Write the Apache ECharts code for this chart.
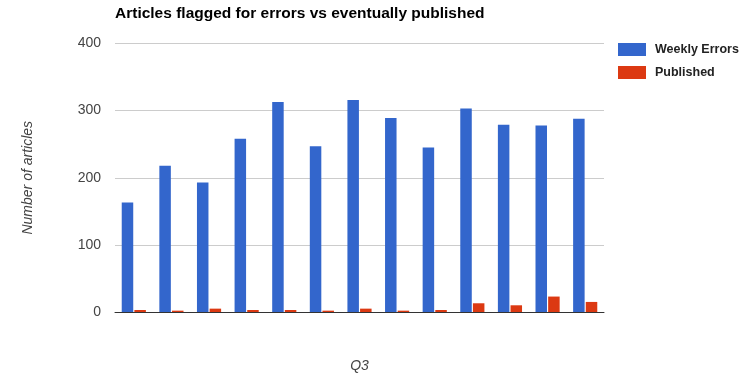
<!DOCTYPE html>
<html>
<head>
<meta charset="utf-8">
<script src="https://cdn.jsdelivr.net/npm/echarts@6/dist/echarts.min.js"></script>
<style>
  html, body { margin: 0; padding: 0; background: #fff; }
  #chart { width: 741px; height: 378px; }
</style>
</head>
<body>
<div id="chart"></div>
<script>
// Weekly counts for Q3: articles flagged for errors and those eventually published
const weeks = ['Week 1', 'Week 2', 'Week 3', 'Week 4', 'Week 5', 'Week 6', 'Week 7',
               'Week 8', 'Week 9', 'Week 10', 'Week 11', 'Week 12', 'Week 13'];
const weeklyErrors = [163, 218, 193, 258, 313, 247, 316, 289, 245, 303, 279, 278, 288];
const published = [3, 2, 5, 3, 3, 2, 5, 2, 3, 13, 10, 23, 15];
const yTicks = { min: 0, max: 400, interval: 100 };

const chart = echarts.init(document.getElementById('chart'), null, { renderer: 'canvas' });
const font = '"Liberation Sans", Arial, sans-serif';

chart.setOption({
  animation: false,
  backgroundColor: '#fff',
  textStyle: { fontFamily: font },
  title: {
    text: 'Articles flagged for errors vs eventually published',
    left: 115,
    top: 6,
    padding: 0,
    textStyle: { fontFamily: font, fontSize: 15.5, fontWeight: 'bold', color: '#000' }
  },
  legend: {
    orient: 'vertical',
    left: 618,
    top: 43,
    padding: 0,
    itemWidth: 28,
    itemHeight: 13,
    itemGap: 10,
    icon: 'rect',
    textStyle: { fontFamily: font, fontSize: 12.5, fontWeight: 'bold', color: '#222', padding: [2, 0, 0, 4] },
    data: ['Weekly Errors', 'Published']
  },
  grid: { left: 115, right: 137, top: 43.5, bottom: 62, containLabel: false },
  xAxis: {
    type: 'category',
    data: weeks,
    name: 'Q3',
    nameLocation: 'middle',
    nameGap: 47,
    nameTextStyle: { fontFamily: font, fontSize: 14, fontStyle: 'italic', color: '#444' },
    axisLine: { show: true, lineStyle: { color: '#333', width: 1 } },
    axisTick: { show: false },
    axisLabel: { show: false },
    splitLine: { show: false }
  },
  yAxis: {
    type: 'value',
    min: yTicks.min,
    max: yTicks.max,
    interval: yTicks.interval,
    name: 'Number of articles',
    nameLocation: 'middle',
    nameGap: 80,
    nameTextStyle: { fontFamily: font, fontSize: 14, fontStyle: 'italic', color: '#444' },
    axisLine: { show: false },
    axisTick: { show: false },
    axisLabel: { fontFamily: font, fontSize: 14, color: '#444', margin: 14 },
    splitLine: { lineStyle: { color: '#cccccc', width: 1 } }
  },
  series: [
    {
      name: 'Weekly Errors',
      type: 'bar',
      data: weeklyErrors,
      barWidth: 11.5,
      barGap: '10%',
      itemStyle: { color: '#3366cc' }
    },
    {
      name: 'Published',
      type: 'bar',
      data: published,
      barWidth: 11.5,
      barGap: '10%',
      itemStyle: { color: '#dc3912' }
    }
  ]
});
</script>
</body>
</html>
